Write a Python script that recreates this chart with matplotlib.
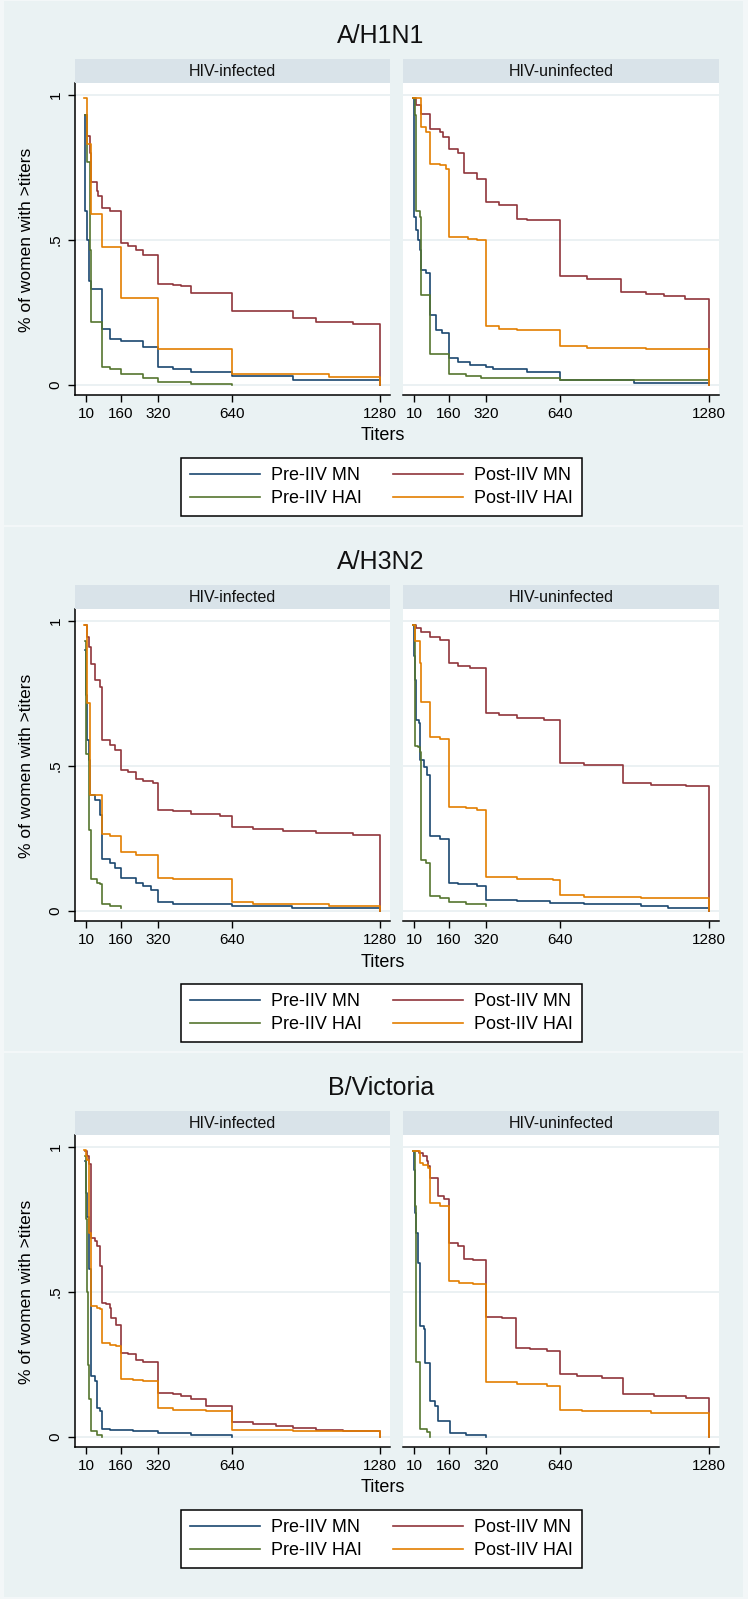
"""
Reverse cumulative distribution of MN and HAI titers, before and after IIV,
split by HIV status, for three influenza strains (stacked Stata-style panels).
"""

import matplotlib.pyplot as plt
from matplotlib.patches import Rectangle
from matplotlib.lines import Line2D

plt.rcParams["font.family"] = ["Liberation Sans", "DejaVu Sans"]

W, H = 748, 1599
DPI = 100
BLOCK_STEP = 526

STRAINS = ["A/H1N1", "A/H3N2", "B/Victoria"]
GROUPS = ["HIV-infected", "HIV-uninfected"]
SERIES = ["Pre-IIV MN", "Post-IIV MN", "Pre-IIV HAI", "Post-IIV HAI"]
COLORS = ["#1a476f", "#90353b", "#55752f", "#e37e00"]
X_TICKS = [10, 160, 320, 640, 1280]
Y_TICKS = [0, 0.5, 1]
Y_TICK_LABELS = ["0", ".5", "1"]

BG = "#eaf2f3"
EDGE = "#f3f7f8"
STRIP = "#d9e3e9"
GRID = "#e6eef0"

# ---------------------------------------------------------------------
#  Data: step curves (titer where the step starts, proportion after it)
# ---------------------------------------------------------------------

# A/H1N1, HIV-infected
h1_inf_pre_mn_x = [5, 8, 15, 24, 34, 80, 113, 160, 257, 320, 386, 465, 640, 903, 1280]
h1_inf_pre_mn_y = [0.93, 0.60, 0.50, 0.36, 0.33, 0.195, 0.16, 0.153, 0.132, 0.063, 0.054, 0.046, 0.031, 0.017, 0.0]
h1_inf_post_mn_x = [5, 15, 27, 34, 56, 63, 80, 113, 160, 192, 228, 257, 320, 386, 422, 465, 640, 903, 1003, 1161, 1280]
h1_inf_post_mn_y = [0.93, 0.86, 0.80, 0.70, 0.67, 0.65, 0.61, 0.60, 0.49, 0.48, 0.465, 0.45, 0.35, 0.345, 0.34, 0.316, 0.256, 0.23, 0.218, 0.212, 0.0]
h1_inf_pre_hai_x = [5, 15, 27, 34, 80, 113, 160, 257, 320, 465, 640]
h1_inf_pre_hai_y = [0.93, 0.77, 0.465, 0.218, 0.063, 0.055, 0.04, 0.026, 0.011, 0.003, 0.0]
h1_inf_post_hai_x = [3, 15, 30, 80, 160, 320, 640, 1060, 1280]
h1_inf_post_hai_y = [0.99, 0.83, 0.59, 0.476, 0.30, 0.126, 0.04, 0.029, 0.0]

# A/H1N1, HIV-uninfected
h1_uninf_pre_mn_x = [7, 10, 20, 27, 37, 40, 62, 80, 104, 130, 160, 200, 250, 320, 352, 497, 640, 957, 1280]
h1_uninf_pre_mn_y = [0.99, 0.58, 0.534, 0.50, 0.465, 0.396, 0.385, 0.24, 0.19, 0.178, 0.092, 0.08, 0.069, 0.063, 0.054, 0.046, 0.017, 0.008, 0.0]
h1_uninf_post_mn_x = [7, 20, 40, 80, 122, 135, 160, 200, 226, 280, 320, 374, 453, 497, 640, 756, 900, 1008, 1087, 1174, 1280]
h1_uninf_post_mn_y = [0.99, 0.965, 0.935, 0.884, 0.873, 0.855, 0.815, 0.80, 0.73, 0.71, 0.63, 0.62, 0.574, 0.568, 0.375, 0.367, 0.32, 0.313, 0.306, 0.298, 0.0]
h1_uninf_pre_hai_x = [7, 16, 20, 34, 40, 80, 160, 235, 300, 640, 1280]
h1_uninf_pre_hai_y = [0.99, 0.93, 0.60, 0.58, 0.31, 0.106, 0.04, 0.03, 0.025, 0.017, 0.017]
h1_uninf_post_hai_x = [7, 40, 60, 80, 122, 150, 160, 244, 280, 320, 374, 453, 640, 756, 1008, 1280]
h1_uninf_post_hai_y = [0.99, 0.89, 0.873, 0.763, 0.758, 0.746, 0.509, 0.503, 0.50, 0.203, 0.195, 0.19, 0.134, 0.129, 0.123, 0.0]

# A/H3N2, HIV-infected
h3_inf_pre_mn_x = [5, 12, 16, 22, 27, 48, 70, 80, 113, 135, 160, 228, 257, 290, 320, 386, 640, 900, 1280]
h3_inf_pre_mn_y = [0.90, 0.745, 0.59, 0.52, 0.40, 0.384, 0.332, 0.178, 0.166, 0.149, 0.115, 0.097, 0.086, 0.074, 0.031, 0.023, 0.017, 0.01, 0.0]
h3_inf_post_mn_x = [5, 16, 24, 34, 48, 70, 80, 113, 135, 160, 192, 228, 257, 300, 320, 386, 465, 587, 640, 730, 860, 1003, 1161, 1280]
h3_inf_post_mn_y = [0.985, 0.945, 0.91, 0.853, 0.796, 0.773, 0.59, 0.573, 0.556, 0.487, 0.481, 0.455, 0.447, 0.44, 0.35, 0.344, 0.336, 0.329, 0.29, 0.283, 0.275, 0.269, 0.263, 0.0]
h3_inf_pre_hai_x = [5, 10, 22, 30, 34, 56, 70, 80, 113, 160]
h3_inf_pre_hai_y = [0.93, 0.54, 0.28, 0.27, 0.109, 0.097, 0.092, 0.026, 0.017, 0.011]
h3_inf_post_hai_x = [3, 16, 27, 80, 113, 160, 228, 320, 386, 640, 730, 1060, 1280]
h3_inf_post_hai_y = [0.985, 0.716, 0.40, 0.267, 0.258, 0.204, 0.195, 0.115, 0.109, 0.031, 0.025, 0.017, 0.0]

# A/H3N2, HIV-uninfected
h3_uninf_pre_mn_x = [7, 10, 16, 20, 31, 37, 53, 65, 80, 122, 160, 200, 280, 320, 453, 597, 741, 986, 1101, 1280]
h3_uninf_pre_mn_y = [0.985, 0.88, 0.796, 0.66, 0.647, 0.52, 0.498, 0.47, 0.258, 0.25, 0.097, 0.092, 0.086, 0.04, 0.034, 0.029, 0.023, 0.017, 0.011, 0.0]
h3_uninf_post_mn_x = [7, 20, 40, 80, 122, 160, 200, 250, 320, 374, 453, 568, 640, 741, 907, 1030, 1181, 1280]
h3_uninf_post_mn_y = [0.985, 0.977, 0.962, 0.945, 0.933, 0.854, 0.845, 0.836, 0.684, 0.676, 0.667, 0.659, 0.51, 0.502, 0.441, 0.433, 0.43, 0.0]
h3_uninf_pre_hai_x = [7, 14, 29, 37, 40, 62, 80, 122, 160, 235, 320]
h3_uninf_pre_hai_y = [0.985, 0.57, 0.566, 0.55, 0.175, 0.166, 0.052, 0.046, 0.031, 0.023, 0.017]
h3_uninf_post_hai_x = [7, 14, 37, 40, 80, 122, 160, 235, 280, 320, 453, 608, 640, 741, 985, 1280]
h3_uninf_post_hai_y = [0.985, 0.93, 0.854, 0.722, 0.60, 0.592, 0.36, 0.355, 0.35, 0.118, 0.111, 0.107, 0.054, 0.049, 0.044, 0.0]

# B/Victoria, HIV-infected
bv_inf_pre_mn_x = [5, 10, 16, 24, 30, 34, 48, 56, 70, 80, 113, 213, 320, 465, 640]
bv_inf_pre_mn_y = [0.95, 0.84, 0.76, 0.578, 0.474, 0.21, 0.193, 0.10, 0.09, 0.029, 0.024, 0.02, 0.015, 0.006, 0.0]
bv_inf_post_mn_x = [8, 16, 24, 30, 48, 56, 70, 80, 96, 113, 120, 140, 160, 192, 228, 257, 320, 386, 422, 465, 530, 640, 730, 830, 903, 1003, 1118, 1280]
bv_inf_post_mn_y = [0.985, 0.968, 0.94, 0.687, 0.675, 0.658, 0.589, 0.463, 0.457, 0.445, 0.41, 0.388, 0.29, 0.285, 0.267, 0.258, 0.153, 0.147, 0.141, 0.13, 0.107, 0.052, 0.046, 0.04, 0.032, 0.024, 0.02, 0.0]
bv_inf_pre_hai_x = [8, 12, 16, 20, 24, 30, 34, 56, 80]
bv_inf_pre_hai_y = [0.97, 0.75, 0.50, 0.25, 0.13, 0.124, 0.02, 0.009, 0.0]
bv_inf_post_hai_x = [3, 10, 16, 24, 34, 56, 70, 80, 113, 140, 160, 213, 257, 320, 386, 530, 640, 730, 903, 1280]
bv_inf_post_hai_y = [0.99, 0.968, 0.956, 0.704, 0.451, 0.445, 0.44, 0.325, 0.319, 0.313, 0.20, 0.196, 0.193, 0.101, 0.095, 0.09, 0.026, 0.024, 0.02, 0.0]

# B/Victoria, HIV-uninfected
bv_uninf_pre_mn_x = [7, 12, 16, 20, 27, 34, 37, 53, 56, 80, 100, 112, 165, 235, 320]
bv_uninf_pre_mn_y = [0.985, 0.922, 0.773, 0.704, 0.60, 0.59, 0.383, 0.371, 0.256, 0.124, 0.107, 0.055, 0.015, 0.006, 0.0]
bv_uninf_post_mn_x = [7, 33, 50, 65, 72, 80, 112, 141, 160, 200, 226, 265, 320, 388, 450, 510, 582, 640, 712, 820, 907, 1044, 1181, 1280]
bv_uninf_post_mn_y = [0.985, 0.98, 0.968, 0.95, 0.933, 0.893, 0.83, 0.82, 0.67, 0.66, 0.614, 0.61, 0.413, 0.41, 0.308, 0.302, 0.296, 0.217, 0.21, 0.204, 0.147, 0.141, 0.135, 0.0]
bv_uninf_pre_hai_x = [7, 14, 18, 34, 37, 65, 80]
bv_uninf_pre_hai_y = [0.985, 0.796, 0.26, 0.256, 0.029, 0.017, 0.0]
bv_uninf_post_hai_x = [7, 36, 50, 72, 80, 122, 160, 205, 265, 320, 453, 582, 640, 733, 1030, 1280]
bv_uninf_post_hai_y = [0.985, 0.945, 0.936, 0.928, 0.805, 0.798, 0.537, 0.532, 0.526, 0.19, 0.184, 0.176, 0.095, 0.09, 0.084, 0.0]

# panels[strain][group] -> list of (x, y) in SERIES order
PANELS = [
    [
        [(h1_inf_pre_mn_x, h1_inf_pre_mn_y), (h1_inf_post_mn_x, h1_inf_post_mn_y),
         (h1_inf_pre_hai_x, h1_inf_pre_hai_y), (h1_inf_post_hai_x, h1_inf_post_hai_y)],
        [(h1_uninf_pre_mn_x, h1_uninf_pre_mn_y), (h1_uninf_post_mn_x, h1_uninf_post_mn_y),
         (h1_uninf_pre_hai_x, h1_uninf_pre_hai_y), (h1_uninf_post_hai_x, h1_uninf_post_hai_y)],
    ],
    [
        [(h3_inf_pre_mn_x, h3_inf_pre_mn_y), (h3_inf_post_mn_x, h3_inf_post_mn_y),
         (h3_inf_pre_hai_x, h3_inf_pre_hai_y), (h3_inf_post_hai_x, h3_inf_post_hai_y)],
        [(h3_uninf_pre_mn_x, h3_uninf_pre_mn_y), (h3_uninf_post_mn_x, h3_uninf_post_mn_y),
         (h3_uninf_pre_hai_x, h3_uninf_pre_hai_y), (h3_uninf_post_hai_x, h3_uninf_post_hai_y)],
    ],
    [
        [(bv_inf_pre_mn_x, bv_inf_pre_mn_y), (bv_inf_post_mn_x, bv_inf_post_mn_y),
         (bv_inf_pre_hai_x, bv_inf_pre_hai_y), (bv_inf_post_hai_x, bv_inf_post_hai_y)],
        [(bv_uninf_pre_mn_x, bv_uninf_pre_mn_y), (bv_uninf_post_mn_x, bv_uninf_post_mn_y),
         (bv_uninf_pre_hai_x, bv_uninf_pre_hai_y), (bv_uninf_post_hai_x, bv_uninf_post_hai_y)],
    ],
]


def fig_rect(x0, y0, x1, y1):
    """Pixel box (top-left origin) -> figure-fraction [left, bottom, w, h]."""
    return [x0 / W, 1 - y1 / H, (x1 - x0) / W, (y1 - y0) / H]


def draw_panel(fig, curves, x0, x1, off, group, first):
    # strip on top of the panel
    strip = Rectangle((x0 / W, 1 - (83 + off) / H), (x1 - x0) / W, 24 / H,
                      transform=fig.transFigure, facecolor=STRIP, edgecolor="none")
    fig.patches.append(strip)
    fig.text((x0 + x1) / 2 / W, 1 - (71 + off) / H, group, ha="center", va="center",
             fontsize=11.5, color="#111111")

    ax = fig.add_axes(fig_rect(x0, 83 + off, x1, 395 + off))
    ax.set_facecolor("white")
    for yv in Y_TICKS:
        ax.axhline(yv, color=GRID, lw=1.1, zorder=0)
    for (xs, ys), c in zip(curves, COLORS):
        ax.plot(xs, ys, drawstyle="steps-post", color=c, lw=1.2)

    ax.set_xlim(-37, 1322)
    ax.set_ylim(-0.034, 1.041)
    ax.set_xticks(X_TICKS)
    ax.set_xticklabels([str(t) for t in X_TICKS], fontsize=11)
    ax.set_yticks(Y_TICKS)
    ax.tick_params(axis="x", length=5, width=1, pad=4, color="black")
    ax.spines["top"].set_visible(False)
    ax.spines["right"].set_visible(False)
    ax.spines["bottom"].set_linewidth(1.1)
    if first:
        ax.spines["left"].set_linewidth(1.1)
        ax.set_yticklabels(Y_TICK_LABELS, fontsize=11, rotation=90, va="center")
        ax.tick_params(axis="y", length=5, width=1, pad=4, color="black")
    else:
        ax.spines["left"].set_visible(False)
        ax.tick_params(axis="y", length=0, labelleft=False)
    return ax


fig = plt.figure(figsize=(W / DPI, H / DPI), dpi=DPI, facecolor=EDGE)

for b, strain in enumerate(STRAINS):
    off = b * BLOCK_STEP
    bottom = 1597 if b == 2 else off + 525
    fig.patches.append(Rectangle((4 / W, 1 - bottom / H), 739 / W, (bottom - off - 1) / H,
                                 transform=fig.transFigure, facecolor=BG, edgecolor="none",
                                 zorder=-10))

    fig.text(381 / W, 1 - (36 + off) / H, strain, ha="center", va="center",
             fontsize=18, color="#111111")

    draw_panel(fig, PANELS[b][0], 75, 390, off, GROUPS[0], True)
    draw_panel(fig, PANELS[b][1], 403, 719, off, GROUPS[1], False)

    fig.text(27 / W, 1 - (240 + off) / H, "% of women with >titers", rotation=90,
             ha="center", va="center", fontsize=12.5)
    fig.text(383 / W, 1 - (436 + off) / H, "Titers", ha="center", va="center", fontsize=13)

    # legend: row 1 MN, row 2 HAI (matplotlib fills columns first)
    handles = [Line2D([], [], color=COLORS[i], lw=1.2) for i in (0, 2, 1, 3)]
    labels = [SERIES[i] for i in (0, 2, 1, 3)]
    leg = fig.legend(handles, labels, loc="center", ncol=2,
                     bbox_to_anchor=(381.5 / W, 1 - (487 + off) / H),
                     fontsize=13, frameon=True, fancybox=False, edgecolor="black",
                     facecolor="white", framealpha=1, handlelength=3.9,
                     handletextpad=0.6, columnspacing=1.7, borderpad=0.5,
                     labelspacing=0.35)
    leg.get_frame().set_linewidth(1.1)

fig.savefig("out.png", dpi=DPI, facecolor=fig.get_facecolor())
